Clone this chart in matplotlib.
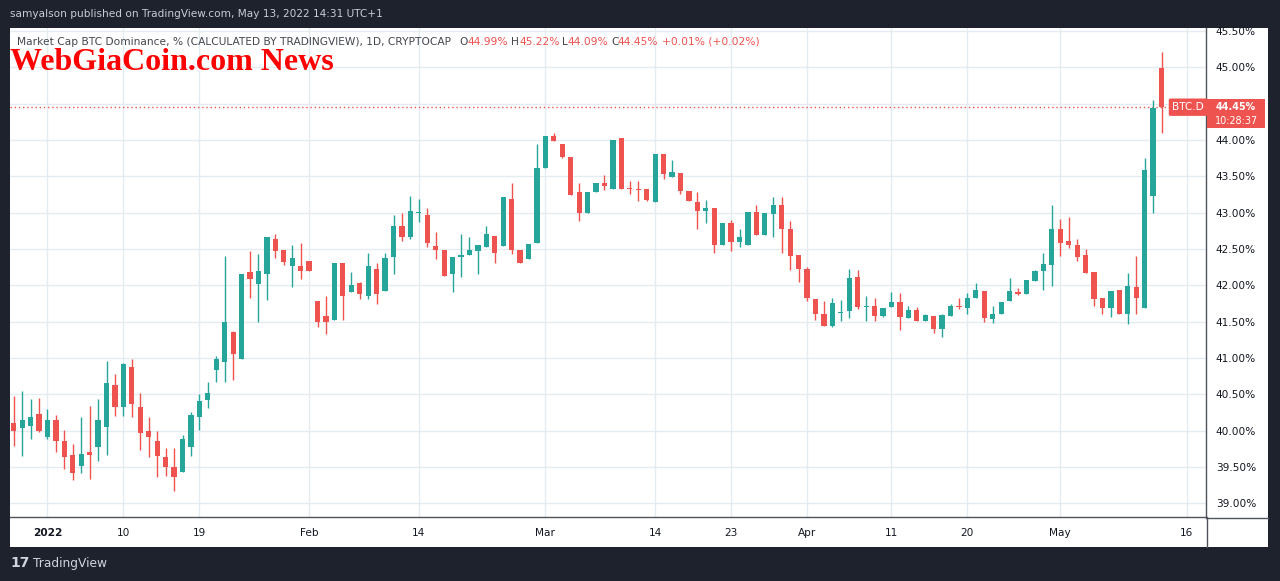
import matplotlib
matplotlib.use("Agg")
import matplotlib.pyplot as plt
import matplotlib.dates as mdates
import pandas as pd
from matplotlib.patches import Rectangle, FancyBboxPatch
from matplotlib.lines import Line2D
from matplotlib.transforms import blended_transform_factory

# daily BTC.D candles, Dec 28 2021 -> May 13 2022 (values in %)
dates = pd.date_range("2021-12-28", "2022-05-13", freq="D")

opens = [40.10, 40.03, 40.06, 40.23, 39.91, 40.14, 39.86, 39.67, 39.51, 39.70,
         39.77, 40.05, 40.62, 40.33, 40.87, 40.33, 40.00, 39.86, 39.63, 39.50,
         39.43, 39.77, 40.18, 40.42, 40.83, 40.94, 41.36, 40.99, 42.18, 42.01,
         42.15, 42.63, 42.48, 42.26, 42.27, 42.33, 41.78, 41.57, 41.52, 42.31,
         41.91, 42.03, 41.85, 42.22, 41.92, 42.39, 42.81, 42.66, 42.99, 42.96,
         42.54, 42.49, 42.15, 42.39, 42.42, 42.47, 42.52, 42.68, 42.54, 43.18,
         42.48, 42.36, 42.58, 43.61, 44.06, 43.94, 43.77, 43.28, 43.00, 43.28,
         43.40, 43.33, 44.02, 43.34, 43.33, 43.33, 43.14, 43.80, 43.49, 43.55,
         43.30, 43.15, 43.02, 43.06, 42.56, 42.86, 42.59, 42.56, 43.01, 42.69,
         42.98, 43.10, 42.78, 42.41, 42.22, 41.81, 41.61, 41.44, 41.62, 41.65,
         42.11, 41.70, 41.72, 41.58, 41.70, 41.77, 41.55, 41.66, 41.51, 41.57,
         41.40, 41.58, 41.72, 41.69, 41.83, 41.92, 41.54, 41.61, 41.78, 41.90,
         41.88, 42.06, 42.19, 42.28, 42.78, 42.61, 42.55, 42.41, 42.18, 41.82,
         41.68, 41.93, 41.61, 41.97, 41.69, 43.23, 44.99]

highs = [40.47, 40.55, 40.43, 40.45, 40.29, 40.22, 40.01, 39.81, 40.18, 40.34,
         40.44, 40.96, 40.78, 40.93, 40.99, 40.52, 40.19, 39.99, 39.76, 39.76,
         39.94, 40.26, 40.50, 40.67, 41.03, 42.40, 41.37, 42.16, 42.47, 42.43,
         42.66, 42.70, 42.48, 42.55, 42.58, 42.33, 41.78, 41.85, 42.31, 42.31,
         42.18, 42.05, 42.44, 42.31, 42.44, 42.96, 43.00, 43.23, 43.18, 43.06,
         42.73, 42.49, 42.39, 42.71, 42.66, 42.56, 42.82, 42.68, 43.21, 43.41,
         42.48, 42.57, 43.95, 44.05, 44.09, 43.94, 43.77, 43.40, 43.28, 43.40,
         43.51, 44.00, 44.02, 43.43, 43.43, 43.33, 43.80, 43.80, 43.73, 43.55,
         43.30, 43.28, 43.17, 43.06, 42.86, 42.90, 42.77, 43.01, 43.10, 42.99,
         43.22, 43.22, 42.89, 42.41, 42.25, 41.81, 41.78, 41.82, 41.79, 42.23,
         42.21, 41.85, 41.83, 41.68, 41.90, 41.89, 41.71, 41.70, 41.61, 41.57,
         41.61, 41.74, 41.83, 41.89, 42.03, 41.92, 41.71, 41.77, 42.10, 41.96,
         42.07, 42.21, 42.44, 43.10, 42.91, 42.94, 42.63, 42.50, 42.18, 41.82,
         41.92, 41.93, 42.17, 42.40, 43.75, 44.55, 45.21]

lows = [39.79, 39.65, 39.89, 39.98, 39.88, 39.70, 39.47, 39.32, 39.41, 39.33,
        39.58, 39.67, 40.20, 40.20, 40.18, 39.73, 39.63, 39.36, 39.37, 39.17,
        39.43, 39.65, 40.01, 40.31, 40.67, 40.67, 40.69, 40.99, 41.82, 41.49,
        41.80, 42.37, 42.28, 41.97, 42.08, 42.19, 41.43, 41.33, 41.52, 41.52,
        41.91, 41.81, 41.81, 41.74, 41.92, 42.15, 42.61, 42.63, 42.87, 42.53,
        42.36, 42.12, 41.90, 42.11, 42.42, 42.15, 42.52, 42.30, 42.54, 42.43,
        42.30, 42.36, 42.58, 43.61, 43.98, 43.75, 43.24, 42.88, 43.00, 43.28,
        43.31, 43.33, 43.32, 43.25, 43.16, 43.16, 43.14, 43.46, 43.49, 43.25,
        43.16, 42.77, 42.85, 42.44, 42.56, 42.47, 42.52, 42.56, 42.69, 42.69,
        42.66, 42.45, 42.21, 42.05, 41.78, 41.52, 41.44, 41.43, 41.51, 41.55,
        41.67, 41.51, 41.51, 41.56, 41.70, 41.39, 41.55, 41.51, 41.51, 41.34,
        41.29, 41.58, 41.67, 41.61, 41.83, 41.50, 41.48, 41.61, 41.78, 41.86,
        41.88, 42.06, 41.94, 41.99, 42.40, 42.51, 42.33, 42.17, 41.72, 41.61,
        41.56, 41.60, 41.46, 41.60, 41.69, 43.00, 44.10]

closes = [40.00, 40.14, 40.18, 39.99, 40.15, 39.85, 39.63, 39.41, 39.68, 39.67,
          40.14, 40.65, 40.33, 40.92, 40.36, 39.96, 39.91, 39.65, 39.50, 39.36,
          39.89, 40.22, 40.40, 40.52, 40.99, 41.50, 41.05, 42.16, 42.08, 42.19,
          42.66, 42.47, 42.32, 42.38, 42.20, 42.19, 41.49, 41.50, 42.31, 41.85,
          42.00, 41.88, 42.27, 41.88, 42.38, 42.81, 42.66, 43.02, 43.00, 42.58,
          42.49, 42.12, 42.39, 42.42, 42.49, 42.56, 42.71, 42.44, 43.21, 42.48,
          42.30, 42.57, 43.62, 44.05, 43.98, 43.76, 43.24, 42.99, 43.28, 43.40,
          43.36, 44.00, 43.32, 43.32, 43.31, 43.17, 43.80, 43.53, 43.56, 43.29,
          43.16, 43.02, 43.06, 42.56, 42.86, 42.59, 42.67, 43.01, 42.69, 42.99,
          43.10, 42.77, 42.40, 42.22, 41.83, 41.61, 41.44, 41.75, 41.63, 42.10,
          41.70, 41.72, 41.58, 41.68, 41.77, 41.56, 41.66, 41.51, 41.59, 41.40,
          41.59, 41.72, 41.70, 41.82, 41.93, 41.55, 41.61, 41.77, 41.92, 41.88,
          42.07, 42.19, 42.29, 42.77, 42.58, 42.56, 42.39, 42.17, 41.81, 41.68,
          41.92, 41.60, 41.99, 41.82, 43.59, 44.44, 44.45]

tick_dates = ["2022-01-01", "2022-01-10", "2022-01-19", "2022-02-01", "2022-02-14",
              "2022-03-01", "2022-03-14", "2022-03-23", "2022-04-01", "2022-04-11",
              "2022-04-20", "2022-05-01", "2022-05-16"]
tick_labels = ["2022", "10", "19", "Feb", "14", "Mar", "14", "23", "Apr", "11",
               "20", "May", "16"]
price_ticks = [39.0, 39.5, 40.0, 40.5, 41.0, 41.5, 42.0, 42.5, 43.0, 43.5, 44.0, 44.5, 45.0, 45.5]

UP = "#26a69a"
DOWN = "#ef5350"
DARK = "#1e222d"
GRID = "#e4ecf1"
AXLINE = "#50535e"
TXT = "#131722"

W, H = 1280, 581


def box(x0, y0, x1, y1):
    return [x0 / W, 1 - y1 / H, (x1 - x0) / W, (y1 - y0) / H]


fig = plt.figure(figsize=(12.8, 5.81), dpi=100, facecolor=DARK)
plt.rcParams["font.family"] = ["DejaVu Sans"]

# white chart panel (behind the axes)
fig.patches.append(Rectangle((10 / W, 1 - 547 / H), 1258 / W, 519 / H,
                             transform=fig.transFigure, facecolor="white",
                             edgecolor="none", zorder=-5))

ax = fig.add_axes(box(10, 28, 1206, 517))
ax.set_zorder(2)
ax.set_facecolor("white")

x = mdates.date2num(dates)
colors = [UP if c >= o else DOWN for o, c in zip(opens, closes)]
bottoms = [min(o, c) for o, c in zip(opens, closes)]
heights = [max(abs(c - o), 0.012) for o, c in zip(opens, closes)]

ax.vlines(x, lows, highs, colors=colors, linewidth=1.0, zorder=3)
ax.bar(x, heights, bottom=bottoms, width=0.62, color=colors, linewidth=0, zorder=4)

# last price line + labels
last = closes[-1]
ax.axhline(last, color=DOWN, linestyle=(0, (1, 2)), linewidth=1, zorder=2)

jan1 = mdates.date2num(pd.Timestamp("2022-01-01"))
ax.set_xlim(jan1 - 4.44, jan1 + 137.27)
ax.set_ylim(38.81, 45.54)

ax.set_xticks(mdates.date2num(pd.to_datetime(tick_dates)))
ax.set_xticklabels(tick_labels)
ax.set_yticks(price_ticks)
# the scale label of the last price hides the tick right next to it
ax.set_yticklabels(["" if abs(v - last) < 0.2 else f"{v:.2f}%" for v in price_ticks])
ax.yaxis.tick_right()
ax.tick_params(axis="x", length=0, pad=8, labelsize=7.6, labelcolor=TXT)
ax.tick_params(axis="y", length=0, pad=7, labelsize=7.6, labelcolor=TXT)
ax.get_xticklabels()[0].set_fontweight("bold")
ax.grid(True, color=GRID, linewidth=1, zorder=0)
ax.set_axisbelow(True)

for s in ["top", "left"]:
    ax.spines[s].set_visible(False)
for s in ["right", "bottom"]:
    ax.spines[s].set_color(AXLINE)
    ax.spines[s].set_linewidth(1)

# axis lines continued into the scale corners
fig.add_artist(Line2D([1206.5 / W, 1206.5 / W], [1 - 517 / H, 1 - 547 / H],
                      color=AXLINE, lw=1, transform=fig.transFigure, zorder=3))
fig.add_artist(Line2D([1206 / W, 1268 / W], [1 - 517.5 / H, 1 - 517.5 / H],
                      color=AXLINE, lw=1, transform=fig.transFigure, zorder=3))

# series label inside chart
tr = blended_transform_factory(ax.transAxes, ax.transData)
ax.text(0.9985, last, "BTC.D", transform=tr, ha="right", va="center",
        fontsize=7.6, color="white", zorder=6,
        bbox=dict(boxstyle="round,pad=0.35,rounding_size=0.15", fc=DOWN, ec="none"))

# price label on the scale
trf = blended_transform_factory(fig.transFigure, ax.transData)
ppx = 72.67  # pixels per 1%
ax.add_patch(FancyBboxPatch((1207 / W, last - 21 / ppx), 58 / W, 29 / ppx,
                            boxstyle="square,pad=0",
                            transform=trf, fc=DOWN, ec="none",
                            clip_on=False, zorder=6))
ax.text(1236 / W, last, f"{last:.2f}%", transform=trf, ha="center",
        va="center", fontsize=6.9, fontweight="bold", color="white",
        clip_on=False, zorder=7)
ax.text(1236 / W, last - 14 / ppx, "10:28:37", transform=trf, ha="center",
        va="center", fontsize=6.9, color="white", clip_on=False, zorder=7)


def ftext(px, py, s, **kw):
    return fig.text(px / W, 1 - py / H, s, **kw)


# header / legend line
ftext(17, 42, "Market Cap BTC Dominance, % (CALCULATED BY TRADINGVIEW), 1D, CRYPTOCAP",
      fontsize=7.7, color="#434651", va="center", zorder=5)
legend_bits = [(459, "O", "#434651"), (468, "44.99%", DOWN),
               (511, "H", "#434651"), (519, "45.22%", DOWN),
               (562, "L", "#434651"), (568, "44.09%", DOWN),
               (611, "C", "#434651"), (618, "44.45%", DOWN),
               (662, "+0.01% (+0.02%)", DOWN)]
for px, s, c in legend_bits:
    ftext(px, 42, s, fontsize=7.7, color=c, va="center", zorder=5)

# watermark
ftext(10, 70, "WebGiaCoin.com News", fontsize=23, fontweight="bold",
      family="Liberation Serif", color="#ff0000", va="baseline", zorder=5)

# top publish line
ftext(10, 14, "samyalson published on TradingView.com, May 13, 2022 14:31 UTC+1",
      fontsize=7.6, color="#c9ccd4", va="center")

# footer logo
ftext(10, 563, "17", fontsize=10, fontweight="bold", color="#d1d4dc", va="center")
ftext(33, 563, "TradingView", fontsize=8.8, color="#d1d4dc", va="center")

fig.savefig("out.png", dpi=100, facecolor=DARK)
